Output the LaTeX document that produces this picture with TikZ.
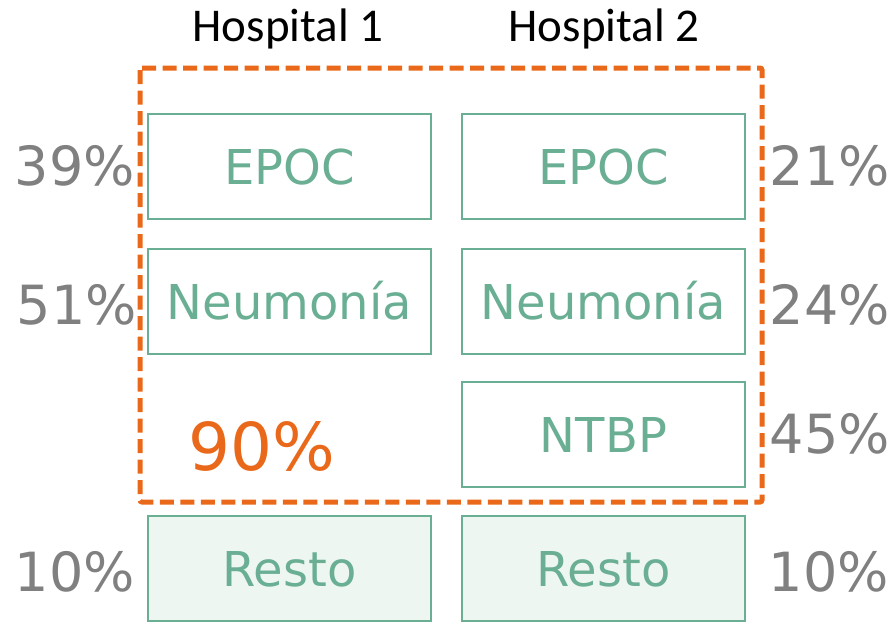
\documentclass[tikz,border=0pt]{standalone}
\usepackage{fontspec}
\setmainfont{DejaVu Sans}
\newfontfamily\hdfont{Carlito}
\definecolor{boxgreen}{HTML}{6AAF94}
\definecolor{restofill}{HTML}{EEF6F2}
\definecolor{dashorange}{HTML}{E9681A}
\definecolor{pctgray}{HTML}{808080}
\begin{document}
\begin{tikzpicture}[x=1pt,y=-1pt,
  catbox/.style={draw=boxgreen, line width=1.6pt, text=boxgreen, minimum width=283pt, minimum height=105pt,
     inner sep=0pt, font=\fontsize{48}{50}\selectfont, text height=35pt, text depth=0pt},
  restobox/.style={catbox, fill=restofill},
  pct/.style={text=pctgray, inner sep=0pt, font=\fontsize{54}{56}\selectfont, text height=39pt, text depth=0pt},
  hdr/.style={inner sep=0pt, font=\hdfont\fontsize{47}{50}\selectfont, text height=30pt, text depth=0pt},
  big/.style={text=dashorange, inner sep=0pt, font=\fontsize{66}{70}\selectfont, text height=48pt, text depth=0pt},
  frame/.style={draw=dashorange, line width=5pt, dash pattern=on 14pt off 6.5pt, rounded corners=2pt}]
\useasboundingbox (0,0) rectangle (895,624);
\draw[frame] (140,68) rectangle (762,502);
\node[hdr] (h1) at (288,26) {Hospital 1};
\node[hdr] (h2) at (604,26) {Hospital 2};
\node[catbox] (e1) at (289.5,166.5) {EPOC};
\node[catbox] (e2) at (603.5,166.5) {EPOC};
\node[catbox] (n1) at (289.5,301.5) {Neumonía};
\node[catbox] (n2) at (603.5,301.5) {Neumonía};
\node[catbox] (t2) at (603.5,434.5) {NTBP};
\node[restobox] (r1) at (289.5,568.5) {Resto};
\node[restobox] (r2) at (603.5,568.5) {Resto};
\node[pct] (p1) at (75,166) {39\%};
\node[pct] (p2) at (77,305) {51\%};
\node[pct] (p3) at (75,572) {10\%};
\node[pct] (q1) at (830,166) {21\%};
\node[pct] (q2) at (830,305) {24\%};
\node[pct] (q3) at (830,434) {45\%};
\node[pct] (q4) at (829,572) {10\%};
\node[big] (tot) at (262,446) {90\%};
\end{tikzpicture}
\end{document}
